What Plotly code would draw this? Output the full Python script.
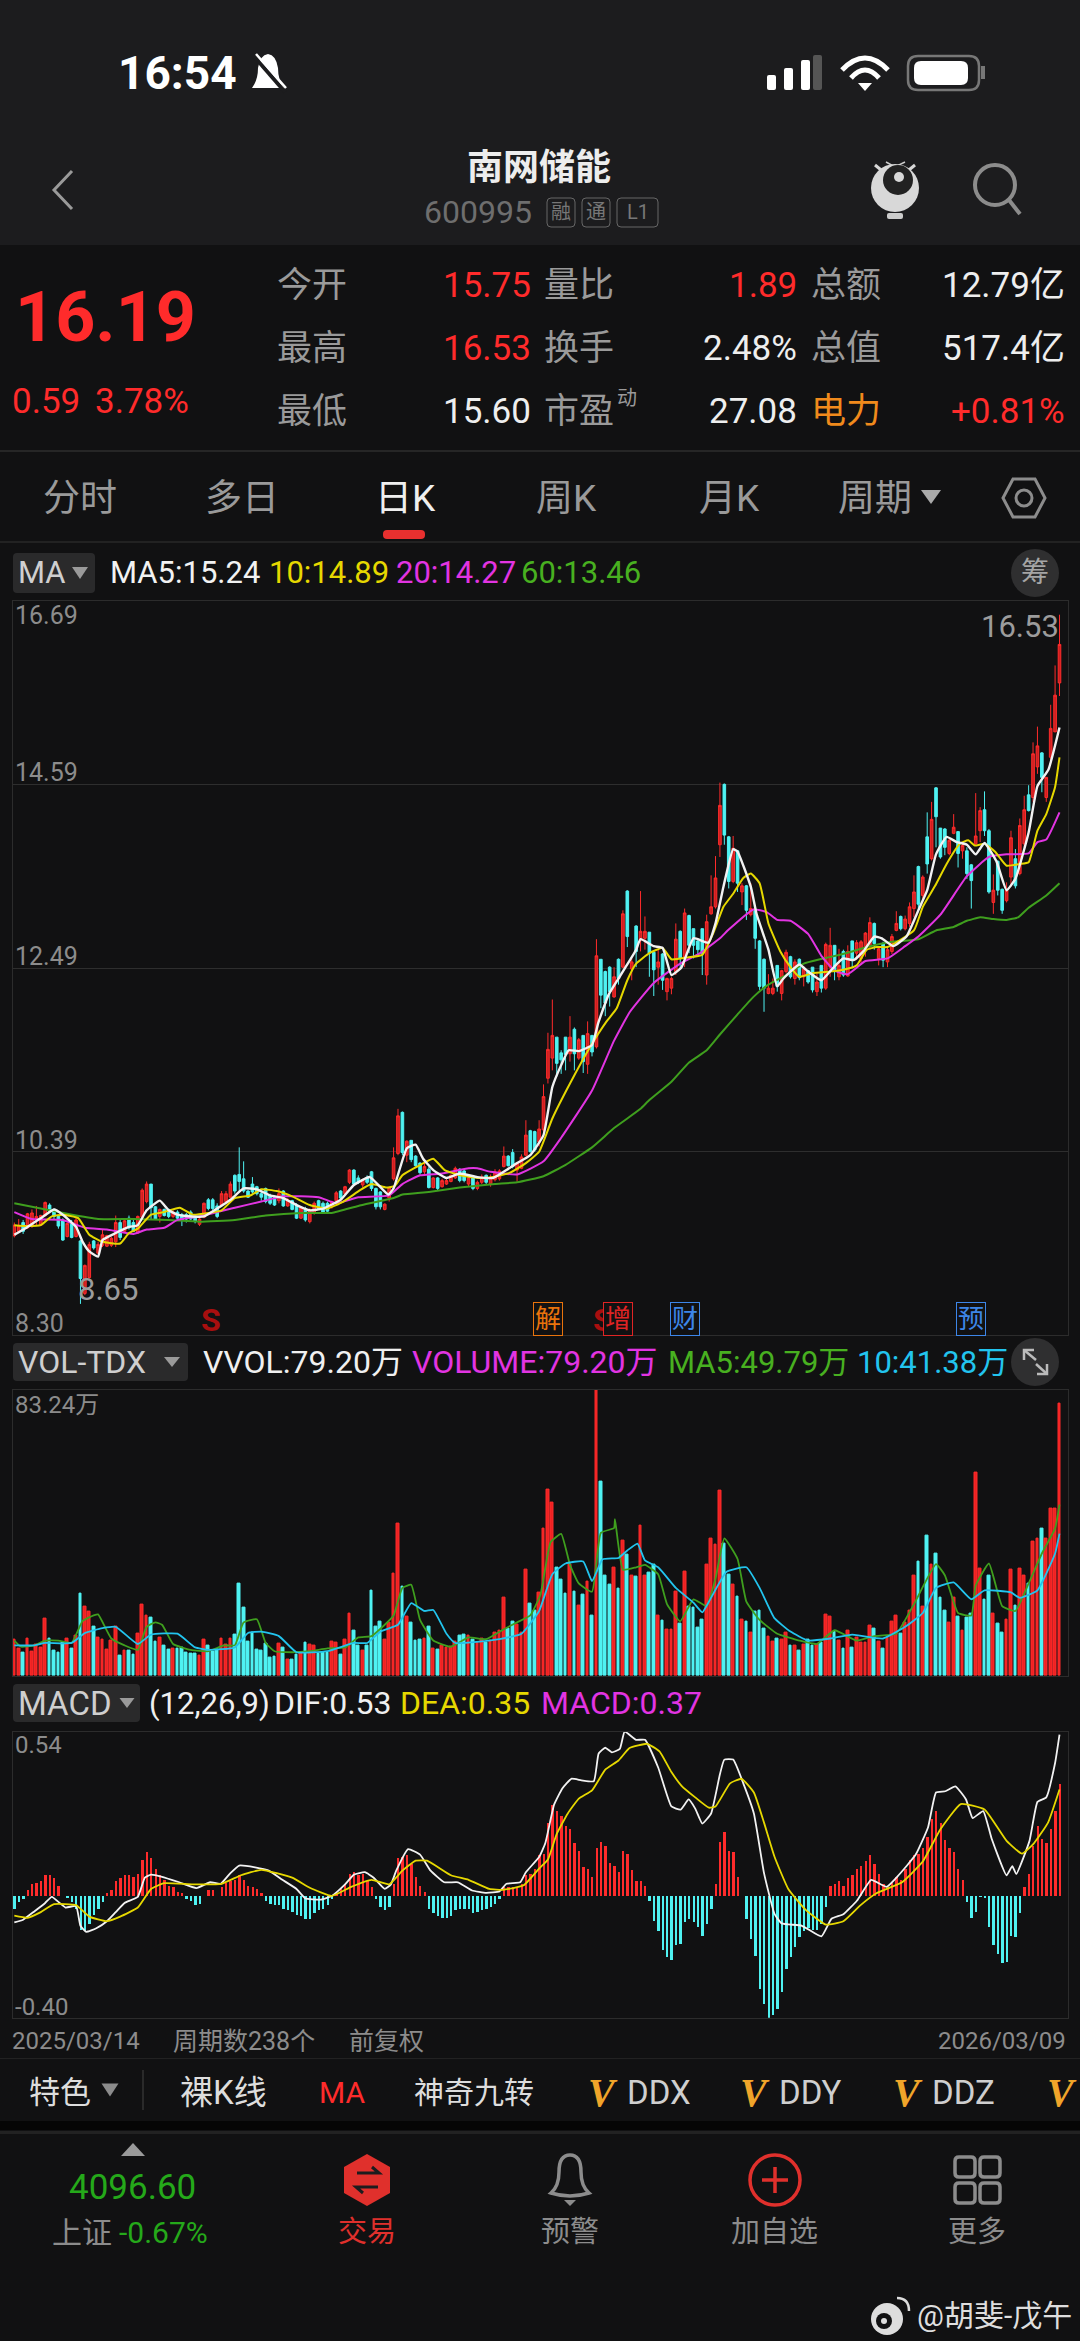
"""
南网储能 600995 daily K screenshot rebuilt with Plotly
"""
import plotly.graph_objects as go

W, H = 1080, 2341

# candles, one row per 10 sessions
opens = [
    9.43,9.48,9.58,9.52,9.55,9.62,9.55,9.66,9.78,9.73,
    9.65,9.61,9.42,9.58,9.42,9.37,8.77,8.95,9.37,9.23,
    9.32,9.31,9.32,9.36,9.58,9.48,9.63,9.58,9.46,9.64,
    9.82,10.02,9.76,9.65,9.73,9.73,9.65,9.70,9.67,9.67,
    9.70,9.65,9.56,9.64,9.84,9.84,9.77,9.78,9.82,9.87,
    10.12,10.13,10.08,9.94,10.02,9.99,9.91,9.97,9.89,9.87,
    9.83,9.94,9.77,9.83,9.78,9.63,9.74,9.59,9.69,9.83,
    9.80,9.80,9.76,9.83,9.94,9.91,10.04,10.18,10.09,10.01,
    10.09,10.16,9.97,9.93,9.73,9.86,10.08,10.37,10.84,10.35,
    10.52,10.34,10.26,10.16,10.19,9.98,10.09,9.99,10.02,10.05,
    10.09,10.19,10.17,10.02,10.09,9.97,10.04,10.12,10.02,10.07,
    10.08,10.22,10.34,10.38,10.18,10.20,10.35,10.63,10.62,10.50,
    10.64,11.23,11.46,11.70,11.52,11.70,11.51,11.79,11.46,11.72,
    11.39,11.72,11.59,12.59,12.45,12.50,12.16,12.59,12.50,13.37,
    12.48,12.97,12.81,12.83,12.90,12.67,12.50,12.65,12.22,12.26,
    12.45,12.91,12.60,13.09,12.94,12.80,12.94,12.41,13.11,13.19,
    13.90,14.59,13.99,13.48,13.83,13.36,13.43,13.10,13.15,12.80,
    12.59,12.20,12.20,12.52,12.20,12.45,12.62,12.37,12.59,12.39,
    12.46,12.50,12.22,12.52,12.26,12.50,12.75,12.39,12.68,12.40,
    12.80,12.66,12.60,12.73,12.75,13.00,12.60,12.77,12.56,12.68,
    12.92,13.08,12.94,13.00,13.17,13.65,13.32,13.99,13.74,14.55,
    14.09,14.08,13.80,14.03,14.05,13.83,13.83,13.67,13.91,14.06,
    14.30,14.06,13.24,13.71,13.39,13.26,13.53,13.74,13.57,13.91,
    14.47,14.44,14.79,14.95,14.44,14.90,15.19,15.75,
]
closes = [
    9.55,9.54,9.48,9.68,9.69,9.65,9.66,9.81,9.71,9.65,
    9.54,9.38,9.57,9.41,9.61,8.94,9.09,9.33,9.29,9.33,
    9.44,9.43,9.40,9.58,9.41,9.60,9.52,9.48,9.65,9.95,
    10.02,9.75,9.62,9.73,9.66,9.65,9.70,9.63,9.61,9.62,
    9.62,9.59,9.62,9.80,9.74,9.74,9.65,9.91,9.91,10.02,
    9.94,10.05,9.94,9.87,9.93,9.91,9.87,9.82,9.80,9.78,
    9.91,9.77,9.84,9.73,9.63,9.75,9.61,9.73,9.80,9.74,
    9.70,9.71,9.82,9.92,9.86,9.99,10.18,10.02,10.04,10.07,
    10.04,9.97,9.76,9.76,9.79,9.98,10.32,10.80,10.38,10.51,
    10.30,10.23,10.15,10.22,9.98,10.09,9.97,10.06,10.06,10.12,
    10.20,10.06,10.06,10.09,9.97,10.04,10.10,10.04,10.10,10.16,
    10.17,10.34,10.23,10.22,10.26,10.33,10.58,10.39,10.41,10.65,
    11.02,11.56,11.72,11.40,11.44,11.50,11.70,11.51,11.67,11.42,
    11.74,11.53,12.63,12.18,12.09,12.22,12.39,12.37,13.11,12.85,
    12.56,12.68,12.91,12.91,12.66,12.47,12.56,12.35,12.37,12.37,
    12.82,12.60,13.12,12.75,12.75,12.70,12.66,13.02,13.19,13.52,
    14.35,14.01,13.48,13.86,13.46,13.43,13.15,13.17,12.83,12.28,
    12.26,12.26,12.26,12.28,12.46,12.67,12.39,12.56,12.38,12.48,
    12.33,12.24,12.33,12.26,12.76,12.75,12.45,12.52,12.41,12.68,
    12.59,12.78,12.79,12.89,13.01,12.77,12.71,12.58,12.70,12.85,
    13.00,12.94,13.05,13.19,13.36,13.22,13.53,13.68,14.19,14.22,
    13.76,13.87,13.95,14.10,13.80,13.89,13.57,13.49,14.00,14.29,
    14.06,13.36,13.38,13.38,13.15,13.38,13.98,13.43,14.12,14.30,
    14.29,14.94,15.03,14.67,14.67,15.23,15.61,16.19,
]
highs = [
    9.58,9.62,9.61,9.69,9.73,9.77,9.67,9.82,9.80,9.74,
    9.67,9.63,9.58,9.61,9.63,9.38,9.10,9.36,9.38,9.36,
    9.50,9.44,9.42,9.66,9.61,9.61,9.66,9.61,9.66,9.97,
    10.05,10.02,9.77,9.74,9.74,9.74,9.72,9.72,9.69,9.69,
    9.72,9.66,9.64,9.81,9.86,9.86,9.80,9.94,9.94,10.05,
    10.13,10.44,10.28,9.95,10.10,10.00,9.94,9.98,9.91,9.88,
    9.97,9.95,9.86,9.84,9.80,9.76,9.76,9.74,9.82,9.84,
    9.82,9.82,9.83,9.94,9.95,10.00,10.19,10.19,10.12,10.08,
    10.12,10.17,9.98,9.94,9.80,9.99,10.44,10.88,10.85,10.52,
    10.52,10.35,10.27,10.27,10.22,10.10,10.10,10.08,10.08,10.13,
    10.22,10.20,10.19,10.10,10.12,10.06,10.13,10.13,10.13,10.19,
    10.19,10.45,10.35,10.42,10.26,10.36,10.75,10.64,10.63,10.75,
    11.16,11.75,12.13,11.70,11.55,11.70,11.94,11.81,11.69,11.72,
    11.88,11.72,12.82,12.59,12.46,12.51,12.50,12.60,13.15,13.38,
    12.61,12.98,13.37,13.08,12.90,12.68,12.70,12.66,12.38,12.39,
    13.00,12.92,13.17,13.10,12.94,12.81,12.94,13.10,13.55,13.77,
    14.61,14.60,14.00,14.00,13.84,13.46,13.44,13.46,13.15,12.81,
    12.60,12.42,12.37,12.52,12.47,12.70,12.63,12.59,12.60,12.51,
    12.47,12.50,12.43,12.52,12.78,12.95,12.75,12.71,12.70,12.75,
    12.80,12.81,12.81,12.90,13.07,13.01,12.73,12.79,12.72,12.88,
    13.14,13.09,13.09,13.24,13.55,13.66,13.55,14.27,14.39,14.56,
    14.09,14.09,13.97,14.25,14.05,13.91,13.87,13.68,14.49,14.33,
    14.51,14.08,13.56,13.72,13.40,13.47,14.06,13.85,14.20,14.46,
    14.58,15.07,15.25,14.96,14.67,15.50,15.95,16.53,
]
lows = [
    9.41,9.47,9.45,9.51,9.52,9.54,9.54,9.65,9.69,9.62,
    9.51,9.37,9.41,9.40,9.41,8.65,8.75,8.94,9.27,9.22,
    9.30,9.30,9.30,9.30,9.38,9.47,9.50,9.47,9.45,9.63,
    9.80,9.61,9.61,9.58,9.65,9.63,9.63,9.62,9.54,9.58,
    9.61,9.57,9.54,9.63,9.72,9.72,9.63,9.77,9.80,9.86,
    9.91,9.94,9.92,9.86,9.91,9.89,9.83,9.80,9.78,9.77,
    9.80,9.76,9.76,9.72,9.62,9.62,9.59,9.57,9.67,9.73,
    9.68,9.69,9.74,9.82,9.84,9.89,10.02,10.00,10.02,9.98,
    10.02,9.94,9.73,9.73,9.72,9.82,10.06,10.35,10.35,10.27,
    10.27,10.22,10.13,10.13,9.97,9.97,9.95,9.98,10.01,10.04,
    10.08,10.04,10.04,9.99,9.95,9.95,10.02,10.02,9.99,10.05,
    10.06,10.21,10.22,10.20,10.05,10.19,10.34,10.38,10.39,10.45,
    10.56,11.17,11.32,11.25,11.28,11.32,11.42,11.32,11.44,11.29,
    11.28,11.48,11.57,12.03,11.94,12.05,12.15,12.30,12.49,12.73,
    12.35,12.50,12.68,12.70,12.39,12.17,12.30,12.24,12.12,12.19,
    12.41,12.49,12.50,12.66,12.60,12.64,12.41,12.30,13.10,13.17,
    13.76,13.90,13.40,13.46,13.36,13.21,13.04,13.08,12.71,12.24,
    11.99,12.19,12.18,12.22,12.12,12.43,12.37,12.30,12.35,12.28,
    12.31,12.21,12.17,12.21,12.24,12.39,12.35,12.35,12.39,12.39,
    12.50,12.58,12.54,12.62,12.70,12.70,12.52,12.50,12.50,12.65,
    12.91,12.92,12.92,12.96,13.07,13.13,13.26,13.57,13.72,13.87,
    13.74,13.78,13.78,14.02,13.64,13.74,13.51,13.17,13.89,13.93,
    14.00,13.34,13.11,13.32,13.11,13.24,13.42,13.40,13.55,13.87,
    14.28,14.39,14.71,14.50,14.39,14.86,15.19,15.60,
]

# price moving averages, read at the session numbers next to them
ma5_x = [0,3,6,9,11,14,15.5,17,19,20,23,26,28,30,33,35,37,40,43,46,49,52,55,58,61,64,67,70,74,77,80.6,84.8,86,89,91,92.7,95,98,101,105,108.6,111.6,114,117,120,122,124,125.7,128,131,132.4,134.7,137,138.6,141,142,145,147,149,151.3,154,157.4,159,160.8,163,164,167,168.3,171,173,174.4,178,180,183,186,188,190.3,192.5,195,196.7,199.3,202.3,205,207,209,211.4,213.7,216,218,220,222.7,225,227,230,232,234.5,237]
ma5 = [9.44,9.53,9.63,9.73,9.67,9.53,9.36,9.25,9.19,9.38,9.46,9.53,9.55,9.72,9.83,9.72,9.67,9.65,9.65,9.74,9.84,9.97,9.96,9.89,9.86,9.78,9.72,9.74,9.84,10.01,10.10,9.90,9.97,10.43,10.47,10.31,10.18,10.09,10.14,10.10,10.09,10.18,10.26,10.35,10.58,11.13,11.38,11.55,11.54,11.61,11.86,12.18,12.37,12.50,12.70,12.82,12.74,12.72,12.41,12.50,12.83,12.78,13.00,13.42,13.85,13.82,13.42,13.11,12.70,12.28,12.37,12.53,12.45,12.35,12.51,12.60,12.58,12.68,12.85,12.83,12.74,12.85,13.15,13.38,13.79,13.99,13.93,13.90,13.79,13.92,13.71,13.38,13.51,14.04,14.57,14.76,15.24]
ma10_x = [0,3,6,8.5,11,14.5,17,20,24,26,28,31,34,37.5,40.5,44,47,50,53.5,56,59.5,63,67,71,74.6,78.4,81,84.4,86.3,88,91,95,97.6,101,105,108.6,112.4,116,119,122,126,130.6,134.3,136.6,139,141,144,147,149,152.5,156,158.5,160.8,163,165.3,167,169,171,173.7,176,178,181,185,188,191,193.3,195.6,198,204,206,208.8,211.4,214.4,216.3,217.8,220,222.4,225,228,230,232,234,236,237]
ma10 = [9.55,9.54,9.55,9.65,9.67,9.63,9.44,9.36,9.34,9.46,9.51,9.67,9.70,9.75,9.67,9.69,9.72,9.86,9.89,9.96,9.94,9.88,9.78,9.74,9.82,9.95,10.02,9.98,10.00,10.12,10.21,10.31,10.18,10.12,10.09,10.10,10.15,10.26,10.39,10.77,11.17,11.59,11.88,12.03,12.35,12.54,12.66,12.72,12.59,12.61,12.64,12.89,13.19,13.34,13.52,13.57,13.46,13.00,12.68,12.50,12.39,12.43,12.45,12.47,12.52,12.70,12.73,12.73,12.92,13.19,13.43,13.68,13.91,13.95,13.89,13.91,13.82,13.66,13.68,13.70,14.06,14.25,14.56,14.90]
ma20_x = [0,4,11,16,21,27,30,34,37,42,50,56,61,69,73,78,85,88,92,97,103,105,108,114,120,124,131,136,139.6,145,151,155.5,160,162,167.6,170.6,173,176,180,183,186,189,193,198,202,205,210,216,221,225,230,232,234,237]
ma20 = [9.70,9.62,9.61,9.52,9.50,9.45,9.50,9.52,9.61,9.65,9.75,9.82,9.88,9.87,9.80,9.87,9.89,10.02,10.12,10.14,10.20,10.20,10.16,10.13,10.28,10.55,11.09,11.66,11.99,12.32,12.54,12.66,12.83,12.93,13.16,13.13,13.04,13.03,12.88,12.63,12.46,12.42,12.57,12.60,12.74,12.85,13.10,13.54,13.76,13.79,13.80,13.93,13.96,14.27]
ma60_x = [0,12,19,27,35,42,50,57,65,72,78,86,88,94,101,109,114,120,125,131,136,142,144,149,153,157,160,164,167.6,171,175,179,182.7,187,190,194,199,205,209,213,216,219,222,225,227.6,230,234,237]
ma60 = [9.80,9.68,9.62,9.62,9.61,9.59,9.61,9.66,9.69,9.69,9.77,9.86,9.90,9.93,9.98,10.02,10.04,10.11,10.24,10.44,10.66,10.88,10.98,11.19,11.41,11.55,11.73,11.96,12.16,12.30,12.41,12.54,12.59,12.64,12.68,12.74,12.79,12.82,12.92,12.96,13.03,13.07,13.05,13.04,13.07,13.18,13.32,13.46]

# volume in 万手
volume = [
    10.7,8.0,6.7,10.9,7.2,9.2,8.3,16.8,10.9,7.3,
    6.9,9.6,10.9,7.9,11.6,24.0,20.1,18.8,14.3,11.2,
    10.7,7.6,10.3,14.3,5.9,7.3,7.3,6.3,12.3,20.7,
    17.6,17.1,9.9,11.2,8.9,7.6,8.0,7.9,8.3,6.9,
    6.4,6.4,5.9,10.5,8.9,7.2,7.7,10.9,9.1,10.9,
    12.0,26.9,19.9,9.9,12.5,7.7,7.3,9.3,5.3,5.6,
    9.3,8.3,4.8,4.8,6.3,6.7,9.6,9.2,8.9,6.4,
    6.9,6.9,9.9,9.6,6.3,10.5,18.0,13.3,8.8,7.3,
    8.8,24.7,14.3,15.9,10.5,15.6,29.9,44.3,26.0,17.2,
    15.5,10.4,10.7,10.9,14.3,8.1,7.7,8.9,8.3,8.5,
    10.0,11.7,12.0,11.6,10.7,9.6,10.8,9.6,10.3,12.7,
    13.3,22.9,13.9,15.9,14.9,12.7,30.9,20.9,18.9,24.3,
    42.7,54.3,50.4,31.6,27.9,24.0,32.3,24.5,20.5,23.6,
    27.3,17.6,83.24,56.5,29.2,26.5,31.6,25.5,39.3,35.2,
    29.2,28.9,43.6,29.2,30.0,32.3,17.6,16.0,13.6,13.6,
    24.5,15.2,30.3,20.3,19.9,14.0,16.5,32.5,40.0,38.1,
    53.9,38.5,29.6,26.5,23.2,16.5,15.9,12.7,18.7,18.9,
    13.9,11.5,10.0,10.9,10.7,12.5,8.9,8.9,7.5,9.2,
    10.7,8.9,9.2,9.6,17.9,17.2,12.9,10.4,8.0,13.2,
    8.3,11.2,9.6,9.6,14.7,13.9,9.9,7.9,11.2,15.7,
    17.6,12.3,15.6,18.9,29.3,33.3,20.3,40.7,32.3,35.6,
    22.9,18.9,15.6,22.9,17.3,13.3,16.9,18.0,59.2,31.2,
    22.3,29.3,18.0,15.3,12.7,16.5,30.9,20.5,31.2,29.3,
    26.9,39.2,40.0,42.7,40.0,48.8,48.8,79.2,
]
vol_ma5_x = [0,1.5,4.6,7,10,13,15.5,18,19,22,25,28,30,32,33.5,36,40,44,47.5,50,52,55,57,59,63,67,71,75,78,81,84,86,88,90,92,95,99,103,107,111,114,117,119.3,121.6,124,126,128,131,133,136,136.2,138,141,143,146,148,151,154,157,159,161,164,166,169,173,178,182,186,191,195,200,204,209,211,214,217,218,221,224,227,230,233,236,237]
vol_ma5 = [10.3,8.5,8.9,10.3,10.3,9.6,16.0,17.6,17.9,10.9,8.9,7.6,14.3,15.6,14.9,9.3,7.6,7.2,8.9,8.9,15.6,16.5,9.6,7.2,6.9,7.2,8.0,8.3,11.2,11.6,14.9,17.6,25.6,26.5,16.3,10.3,8.5,11.2,10.7,13.6,15.6,17.6,23.6,38.9,41.3,32.3,26.9,24.5,41.6,43.0,45.6,30.9,31.6,32.3,29.6,20.9,15.9,22.3,20.3,28.3,40.0,34.0,21.6,16.3,12.3,10.3,9.3,13.3,10.3,11.6,12.3,20.9,32.5,29.3,18.3,17.6,26.3,32.7,20.3,18.9,26.9,35.6,42.9,49.79]
vol_ma10_x = [0,4.6,7,13,16,20,23,28,31,37,41,44,50,53,56,60,64,71,77,80,83,87,90,93,95,98,100,110,115,119,122,125,129,131,133.4,137,139,141.3,143,146,150,154,156,157.5,161.5,166,169,172.3,176,180,185,190,197,202,206,209,213,217,220,226,228,232,236,237]
vol_ma10 = [8.9,8.9,9.6,9.6,12.5,13.9,14.3,9.3,12.0,12.3,8.3,7.6,8.3,12.5,12.9,11.6,6.9,7.2,9.6,9.6,12.9,14.9,21.2,18.9,19.2,12.3,9.6,10.7,12.3,18.9,29.6,32.7,33.3,27.6,33.9,34.3,36.5,38.5,33.6,31.6,25.6,21.3,18.5,21.6,30.3,31.6,25.6,16.9,12.9,10.3,10.9,12.0,10.9,14.3,18.3,25.6,27.2,22.3,24.9,24.3,22.7,24.9,35.6,41.38]

# MACD histogram, then DIF and DEA
macd = [
    -.04,-.02,-.01,.02,.04,.045,.05,.07,.07,.06,
    .035,0,-.005,-.02,-.04,-.11,-.115,-.09,-.06,-.04,
    -.02,.01,.02,.05,.06,.07,.07,.065,.075,.12,
    .145,.125,.09,.07,.055,.035,.03,.015,.01,-.01,
    -.015,-.03,-.025,0,.02,.02,0,.03,.045,.05,
    .055,.07,.055,.035,.03,.025,.01,-.015,-.025,-.03,
    -.03,-.04,-.045,-.05,-.06,-.065,-.075,-.075,-.055,-.045,
    -.04,-.03,-.01,.01,.025,.04,.075,.08,.07,.075,
    .05,.03,-.01,-.035,-.045,-.035,.04,.125,.13,.135,
    .105,.065,.035,.015,-.04,-.055,-.065,-.07,-.07,-.065,
    -.045,-.04,-.04,-.04,-.055,-.05,-.045,-.04,-.035,-.025,
    -.01,.03,.03,.03,.03,.04,.07,.075,.09,.135,
    .14,.24,.30,.28,.265,.23,.22,.175,.15,.095,
    .09,.065,.16,.18,.165,.11,.10,.08,.15,.14,
    .085,.05,.05,.035,-.015,-.08,-.115,-.175,-.20,-.21,
    -.16,-.155,-.085,-.075,-.085,-.10,-.13,-.09,-.04,.04,
    .18,.21,.15,.145,.065,0,-.075,-.14,-.195,-.305,
    -.355,-.40,-.39,-.37,-.315,-.24,-.20,-.165,-.135,-.115,
    -.105,-.11,-.11,-.09,-.035,.035,.04,.05,.035,.06,
    .07,.09,.10,.115,.135,.105,.075,.04,.03,.045,
    .065,.055,.09,.12,.135,.14,.16,.195,.255,.28,
    .24,.185,.16,.145,.09,.055,-.02,-.07,-.05,-.002,
    -.005,-.10,-.16,-.19,-.22,-.215,-.13,-.135,-.055,.03,
    .075,.165,.23,.19,.175,.22,.28,.37,
]
dif_x = [0,2,4.6,7,8.5,11.6,14,15,16.3,18.6,21,23,25,28,29.6,31,33.5,37.4,41.3,44.4,46.8,49,51,54.6,57.7,60.8,64,66,69.4,72,75,77,79.5,81.5,84,85.4,86.6,89.3,92,94.4,97.5,100.6,103.8,107,110,111.6,114.7,116,119,120.4,122.4,124.3,126.3,128.6,131.4,132.5,134,135.5,137.3,138.4,141,143,146,149,151.1,152.9,154.4,156,158,160,161,163,165.3,167.7,170,172.4,174,178.6,183,185.3,188,191.1,194.3,197.8,200.5,204.4,207.2,209,211.1,213.4,215.8,217.3,219.7,221.6,225,226.3,227.2,230.2,232,234,236,237]
dif = [-.087,-.078,-.05,-.023,-.003,-.038,-.033,-.098,-.118,-.106,-.083,-.053,-.023,-.003,.06,.07,.063,.045,.026,.045,.04,.075,.10,.094,.083,.053,.023,-.008,-.012,0,.038,.07,.078,.06,.023,.038,.083,.154,.136,.083,.045,.045,.018,.01,.015,.04,.045,.078,.128,.173,.30,.354,.385,.38,.377,.468,.487,.472,.483,.54,.513,.513,.422,.294,.284,.317,.287,.238,.271,.40,.448,.448,.37,.271,.075,-.06,-.09,-.098,-.133,-.075,-.06,-.015,.053,.03,.068,.136,.226,.34,.344,.36,.317,.256,.279,.189,.068,.098,.072,.181,.309,.324,.437,.53]
dea_x = [0,3,6,9,14,17,21,24,28,31,34,40.5,47,51.4,56,63,67,72,76.4,81,85,88,91,93.6,99,103,107.7,110.8,115.5,119,121,123,125.5,128,131,134,137,139.5,143.5,146.3,149,151.3,154.4,157.5,159,162.3,164.9,167.7,170,172.4,175.5,179.4,184,188,191.9,195.4,201.3,206,210,214.6,220,225,228.5,231.2,234.4,237]
dea = [-.065,-.072,-.053,-.027,-.03,-.068,-.083,-.068,-.038,.023,.042,.038,.04,.068,.086,.06,.027,0,.03,.053,.038,.083,.116,.116,.068,.053,.023,.02,.035,.09,.12,.204,.271,.32,.347,.415,.445,.486,.50,.475,.407,.362,.324,.29,.294,.37,.385,.34,.241,.128,.023,-.045,-.094,-.083,-.03,.008,.045,.113,.219,.302,.284,.181,.139,.173,.241,.35]

price_ticks = [16.69, 14.59, 12.49, 10.39, 8.30]
price_tick_labels = ["16.69", "14.59", "12.49", "10.39", "8.30"]
event_x = [44.6, 121, 133.5, 137, 152, 217]
event_labels = ["S", "解", "S", "增", "财", "预"]
event_colors = ["#a80f0f", "#e8730c", "#a80f0f", "#e02424", "#3d86e8", "#3d86e8"]

RED = "#ff2b2b"
CYAN = "#4ff2f2"
WHITE = "#f2f2f2"
YELLOW = "#e6d800"
MAGENTA = "#e234e2"
GREEN = "#3f9f1e"
SKY = "#22c4ee"
GREY = "#8c8c8c"
BG = "#111112"
FONT = "Roboto, 'Noto Sans CJK SC'"

sessions = list(range(len(opens)))
x_range = [-0.41, 238.86]


def px(x):
    return x / W


def py(y):
    return 1 - y / H


def line_trace(xs, ys, color, xaxis, yaxis, width=2):
    return go.Scatter(x=xs, y=ys, mode="lines", xaxis=xaxis, yaxis=yaxis, hoverinfo="skip",
                      line=dict(color=color, width=width, shape="spline", smoothing=0.4))


fig = go.Figure()

fig.add_trace(go.Candlestick(
    x=sessions, open=opens, high=highs, low=lows, close=closes,
    xaxis="x", yaxis="y", whiskerwidth=0,
    increasing=dict(line=dict(color=RED, width=1), fillcolor="#cc2020"),
    decreasing=dict(line=dict(color=CYAN, width=1), fillcolor=CYAN),
))
fig.add_trace(line_trace(ma60_x, ma60, GREEN, "x", "y"))
fig.add_trace(line_trace(ma20_x, ma20, MAGENTA, "x", "y"))
fig.add_trace(line_trace(ma10_x, ma10, YELLOW, "x", "y"))
fig.add_trace(line_trace(ma5_x, ma5, WHITE, "x", "y", 2.4))

vol_colors = [RED if c >= o else CYAN for o, c in zip(opens, closes)]
vol_fill = ["#ee2222" if c >= o else CYAN for o, c in zip(opens, closes)]
fig.add_trace(go.Bar(x=sessions, y=volume, xaxis="x2", yaxis="y2", width=0.62,
                     marker=dict(color=vol_fill, line=dict(color=vol_colors, width=1))))
fig.add_trace(line_trace(vol_ma5_x, vol_ma5, GREEN, "x2", "y2", 1.8))
fig.add_trace(line_trace(vol_ma10_x, vol_ma10, SKY, "x2", "y2", 1.8))

macd_colors = [RED if v >= 0 else CYAN for v in macd]
fig.add_trace(go.Bar(x=sessions, y=macd, xaxis="x3", yaxis="y3", width=0.42,
                     marker=dict(color=macd_colors, line=dict(width=0))))
fig.add_trace(line_trace(dif_x, dif, WHITE, "x3", "y3", 1.8))
fig.add_trace(line_trace(dea_x, dea, YELLOW, "x3", "y3", 1.8))

shapes = []
notes = []


def rect(x0, y0, x1, y1, fill=None, line=None, width=1, layer="below", radius=0):
    if radius:
        r = radius
        d = (f"M{px(x0 + r)},{py(y0)} L{px(x1 - r)},{py(y0)} Q{px(x1)},{py(y0)} {px(x1)},{py(y0 + r)} "
             f"L{px(x1)},{py(y1 - r)} Q{px(x1)},{py(y1)} {px(x1 - r)},{py(y1)} L{px(x0 + r)},{py(y1)} "
             f"Q{px(x0)},{py(y1)} {px(x0)},{py(y1 - r)} L{px(x0)},{py(y0 + r)} Q{px(x0)},{py(y0)} {px(x0 + r)},{py(y0)} Z")
        path(d, fill, line, width, layer)
        return
    shapes.append(dict(type="rect", xref="paper", yref="paper", x0=px(x0), x1=px(x1), y0=py(y0), y1=py(y1),
                       fillcolor=fill, line=dict(color=line, width=width if line else 0), layer=layer))


def circle(cx, cy, r, fill=None, line=None, width=1, layer="above"):
    shapes.append(dict(type="circle", xref="paper", yref="paper", x0=px(cx - r), x1=px(cx + r),
                       y0=py(cy + r), y1=py(cy - r), fillcolor=fill,
                       line=dict(color=line, width=width if line else 0), layer=layer))


def path(d, fill=None, line=None, width=1, layer="above"):
    shapes.append(dict(type="path", xref="paper", yref="paper", path=d, fillcolor=fill,
                       line=dict(color=line, width=width if line else 0), layer=layer))


def poly(points, fill=None, line=None, width=1, close=True):
    d = "M" + " L".join(f"{px(a)},{py(b)}" for a, b in points) + (" Z" if close else "")
    path(d, fill, line, width)


def text(x, y, s, size, color, anchor="left", family=FONT, weight=None):
    if weight:
        s = f"<b>{s}</b>"
    # annotations carry a little padding of their own
    shift = {"left": -3, "right": 1, "center": 0}[anchor]
    notes.append(dict(x=px(x), y=py(y), xref="paper", yref="paper", text=s, showarrow=False,
                      xanchor=anchor, yanchor="middle", align=anchor, xshift=shift,
                      font=dict(size=size, color=color, family=family)))


def data_text(x, y, s, size, color, xref, yref, xanchor="left", yanchor="bottom", **kw):
    notes.append(dict(x=x, y=y, xref=xref, yref=yref, text=s, showarrow=False, xanchor=xanchor,
                      yanchor=yanchor, font=dict(size=size, color=color, family=FONT), **kw))


def tri_down(cx, cy, w, h, color):
    poly([(cx - w / 2, cy - h / 2), (cx + w / 2, cy - h / 2), (cx, cy + h / 2)], fill=color)


# header and bands
rect(0, 0, 1080, 245, fill="#1c1c1e")
rect(0, 450, 1080, 452, fill="#262626")
rect(0, 541, 1080, 543, fill="#222222")
rect(0, 2058, 1080, 2059, fill="#222222")
rect(0, 2121, 1080, 2130, fill="#050505")
rect(0, 2131, 1080, 2134, fill="#222222")

# status bar
text(119, 73, "16:54", 46, "white", family="Roboto", weight=True)
path(f"M{px(252)},{py(88)} Q{px(258)},{py(80)} {px(258)},{py(68)} Q{px(260)},{py(55)} {px(268)},{py(54)} "
     f"Q{px(276)},{py(55)} {px(278)},{py(68)} Q{px(278)},{py(80)} {px(284)},{py(88)} Z", fill="white")
poly([(252, 54), (285, 92)], line="#1c1c1e", width=4, close=False)
poly([(256, 54), (286, 88)], line="white", width=2.5, close=False)
for x0, top, col in [(768, 75, "white"), (785, 68, "white"), (802, 60, "white"), (814, 55, "#555555")]:
    rect(x0 - 1, top, x0 + 8, 90, fill=col, layer="above", radius=2)
path(f"M{px(842)},{py(70)} Q{px(865)},{py(46)} {px(888)},{py(70)}", line="white", width=5)
path(f"M{px(851)},{py(78)} Q{px(865)},{py(62)} {px(879)},{py(78)}", line="white", width=5)
poly([(858, 83), (872, 83), (865, 91)], fill="white")
rect(908, 56, 979, 90, line="#777777", width=2.5, layer="above", radius=10)
rect(914, 61, 968, 85, fill="white", layer="above", radius=7)
rect(981, 66, 985, 79, fill="#777777", layer="above")

# title row
poly([(72, 171), (54, 190), (72, 209)], line="#9a9a9a", width=3, close=False)
text(539, 168, "南网储能", 36, "#ededed", "center", weight=True)
text(425, 212, "600995", 32, "#6e6e6e")
for x0, x1, s in [(547, 575, "融"), (582, 610, "通"), (617, 658, "L1")]:
    rect(x0, 198, x1, 227, line="#666666", layer="above", radius=4)
    text((x0 + x1) / 2, 212, s, 20, "#777777", "center")
poly([(875, 165), (886, 174)], line="#d8d8d8", width=3, close=False)
poly([(915, 165), (904, 174)], line="#d8d8d8", width=3, close=False)
poly([(886, 162), (895, 167), (905, 162)], line="#cccccc", width=1.5, close=False)
circle(895, 188, 24, fill="#d8d8d8")
circle(898, 180, 15, fill="#222222")
circle(899, 177, 5, fill="#d8d8d8")
rect(887, 213, 903, 219, fill="#cccccc", layer="above", radius=2)
circle(995, 185, 20, line="#8c8c8c", width=4)
poly([(1009, 200), (1020, 214)], line="#8c8c8c", width=4, close=False)

# quote block
text(16, 317, "16.19", 70, RED, family="Roboto", weight=True)
text(13, 401, "0.59", 35, RED)
text(96, 401, "3.78%", 35, RED)
left_labels = ["今开", "最高", "最低"]
left_values = ["15.75", "16.53", "15.60"]
left_colors = [RED, RED, "#eeeeee"]
mid_labels = ["量比", "换手", "市盈"]
mid_values = ["1.89", "2.48%", "27.08"]
mid_colors = [RED, "#eeeeee", "#eeeeee"]
right_labels = ["总额", "总值", "电力"]
right_values = ["12.79亿", "517.4亿", "+0.81%"]
right_colors = ["#eeeeee", "#eeeeee", RED]
for row, y in enumerate([285, 349, 412]):
    text(278, y, left_labels[row], 35, "#9a9a9a")
    text(532, y, left_values[row], 35, left_colors[row], "right")
    text(545, y, mid_labels[row], 35, "#9a9a9a")
    text(798, y, mid_values[row], 35, mid_colors[row], "right")
    text(812, y, right_labels[row], 35, "#f08a1c" if row == 2 else "#9a9a9a")
    text(1066, y, right_values[row], 35, right_colors[row], "right")
text(618, 398, "动", 20, "#9a9a9a")

# period tabs
tab_labels = ["分时", "多日", "日K", "周K", "月K", "周期"]
tab_x = [80, 242, 405, 566, 729, 875]
for i, (s, x) in enumerate(zip(tab_labels, tab_x)):
    text(x, 498, s, 37, "#efefef" if i == 2 else "#9a9a9a", "center")
tri_down(931, 497, 20, 14, "#aaaaaa")
rect(383, 530, 425, 539, fill="#e8302f", layer="above", radius=4)
poly([(1003, 498), (1013, 479), (1035, 479), (1045, 498), (1035, 517), (1013, 517)], line="#8c8c8c", width=3)
circle(1024, 498, 8, line="#8c8c8c", width=3)

# indicator headers
rect(13, 553, 95, 593, fill="#2a2a2b", layer="above", radius=4)
text(19, 573, "MA", 31, "#cfcfcf")
tri_down(80, 573, 16, 12, "#9a9a9a")
text(111, 573, "MA5:15.24", 31, "#f2f2f2")
text(270, 573, "10:14.89", 31, YELLOW)
text(397, 573, "20:14.27", 31, MAGENTA)
text(522, 573, "60:13.46", 31, "#48b020")
circle(1035, 573, 24, fill="#2f2f30")
text(1035, 573, "筹", 28, "#a5a5a5", "center")

rect(13, 1343, 188, 1381, fill="#2a2a2b", layer="above", radius=4)
text(19, 1362, "VOL-TDX", 32, "#cfcfcf")
tri_down(172, 1362, 16, 10, "#9a9a9a")
text(204, 1362, "VVOL:79.20万", 32, "#f0f0f0")
text(413, 1362, "VOLUME:79.20万", 32, MAGENTA)
text(669, 1362, "MA5:49.79万", 31, "#48b020")
text(858, 1362, "10:41.38万", 31, SKY)
circle(1035, 1362, 24, fill="#2f2f30")
poly([(1024, 1350), (1036, 1360)], line="#bbbbbb", width=2.5, close=False)
poly([(1024, 1360), (1024, 1350), (1034, 1350)], line="#bbbbbb", width=2.5, close=False)
poly([(1036, 1364), (1047, 1374)], line="#bbbbbb", width=2.5, close=False)
poly([(1037, 1374), (1047, 1374), (1047, 1364)], line="#bbbbbb", width=2.5, close=False)

rect(13, 1684, 140, 1722, fill="#2a2a2b", layer="above", radius=4)
text(19, 1703, "MACD", 33, "#cfcfcf")
tri_down(127, 1703, 15, 10, "#9a9a9a")
text(150, 1703, "(12,26,9)", 31, "#f0f0f0")
text(275, 1703, "DIF:0.53", 32, "#f0f0f0")
text(401, 1703, "DEA:0.35", 32, YELLOW)
text(542, 1703, "MACD:0.37", 32, MAGENTA)

# price pane labels
for v, s in zip(price_ticks, price_tick_labels):
    top = v == price_ticks[0]
    data_text(x_range[0], v, s, 25, GREY, "x", "y", yanchor="top" if top else "bottom",
              yshift=2 if top else -5)
data_text(14, min(lows), "8.65", 31, "#9c9c9c", "x", "y", yanchor="middle", yshift=14)
data_text(237, max(highs), "16.53", 31, "#9c9c9c", "x", "y", xanchor="right", yanchor="top",
          xshift=1, yshift=9)
for x, s, c in zip(event_x, event_labels, event_colors):
    if s == "S":
        data_text(x, 8.47, f"<b>{s}</b>", 32, c, "x", "y", xanchor="center", yanchor="middle")
    else:
        data_text(x, 8.48, s, 26, c, "x", "y", xanchor="center", yanchor="middle",
                  bordercolor=c, borderwidth=1, borderpad=1, bgcolor=BG)

data_text(x_range[0], 83.24, "83.24万", 24, GREY, "x2", "y2", yanchor="top", yshift=1)
data_text(x_range[0], 0.54, "0.54", 24, GREY, "x3", "y3", yanchor="top", yshift=3)
data_text(x_range[0], -0.40, "-0.40", 24, GREY, "x3", "y3", yanchor="bottom", yshift=-5)

# footer of the chart
text(13, 2041, "2025/03/14", 24, GREY)
text(174, 2041, "周期数238个", 25, GREY)
text(350, 2041, "前复权", 25, GREY)
text(1067, 2041, "2026/03/09", 24, GREY, "right")

# feature strip
text(30, 2092, "特色", 31, "#dddddd")
tri_down(110, 2090, 17, 13, "#8c8c8c")
rect(142, 2070, 144, 2110, fill="#2a2a2a", layer="above")
text(181, 2092, "裸K线", 33, "#dddddd")
text(320, 2092, "MA", 30, RED)
text(415, 2092, "神奇九转", 30, "#dddddd")
for vx, s in [(603, "DDX"), (755, "DDY"), (908, "DDZ"), (1062, "")]:
    text(vx, 2092, "<b><i>V</i></b>", 40, "#f0a52a", "center", family="Liberation Serif")
    if s:
        text(vx + 25, 2092, s, 33, "#cfcfcf")

# bottom nav
poly([(121, 2156), (145, 2156), (133, 2143)], fill="#9a9a9a")
text(132, 2187, "4096.60", 35, "#25a91a", "center")
text(53, 2232, "上证", 30, "#8c8c8c")
text(120, 2232, "-0.67%", 30, "#25a91a")
poly([(367, 2154), (390, 2167), (390, 2193), (367, 2206), (344, 2193), (344, 2167)], fill="#e0302c")
poly([(357, 2173), (379, 2173), (372, 2167)], line="#1c1c1e", width=3, close=False)
poly([(378, 2187), (356, 2187), (363, 2193)], line="#1c1c1e", width=3, close=False)
text(367, 2232, "交易", 29, "#e0302c", "center")
path(f"M{px(551)},{py(2193)} Q{px(559)},{py(2186)} {px(559)},{py(2172)} Q{px(559)},{py(2155)} {px(570)},{py(2155)} "
     f"Q{px(581)},{py(2155)} {px(581)},{py(2172)} Q{px(581)},{py(2186)} {px(589)},{py(2193)} Q{px(570)},{py(2199)} {px(551)},{py(2193)} Z",
     line="#8c8c8c", width=3.5)
poly([(564, 2200), (576, 2200), (570, 2206)], fill="#8c8c8c")
text(570, 2232, "预警", 29, "#8c8c8c", "center")
circle(775, 2180, 25, line="#e0302c", width=3.5)
poly([(762, 2180), (788, 2180)], line="#e0302c", width=3.5, close=False)
poly([(775, 2167), (775, 2193)], line="#e0302c", width=3.5, close=False)
text(774, 2232, "加自选", 29, "#8c8c8c", "center")
for gx, gy in [(955, 2157), (980, 2157), (955, 2183), (980, 2183)]:
    rect(gx, gy, gx + 20, gy + 20, line="#8c8c8c", width=3.5, layer="above", radius=4)
text(977, 2232, "更多", 29, "#8c8c8c", "center")

# watermark
circle(887, 2319, 16, fill="#dddddd")
circle(884, 2321, 8, fill="#111112")
circle(884, 2321, 3, fill="#dddddd")
path(f"M{px(897)},{py(2298)} Q{px(909)},{py(2298)} {px(909)},{py(2311)}", line="#dddddd", width=2.5)
text(918, 2315, "@胡斐-戊午", 30, "#dedede")


def pane_axes(top, bottom):
    xa = dict(domain=[px(12.5), px(1067.7)], range=x_range, showgrid=False, showticklabels=False,
              zeroline=False, ticks="", showline=True, mirror=True, linecolor="#2c2c2c", linewidth=1,
              rangeslider=dict(visible=False), fixedrange=True)
    ya = dict(domain=[py(bottom), py(top)], showticklabels=False, zeroline=False, ticks="",
              showline=True, mirror=True, linecolor="#2c2c2c", linewidth=1, fixedrange=True)
    return xa, ya


x1, y1 = pane_axes(600.7, 1334.5)
x2, y2 = pane_axes(1389.6, 1676)
x3, y3 = pane_axes(1731.6, 2017.7)
y1.update(range=[8.30, 16.69], tickvals=price_ticks[1:4], showgrid=True, gridcolor="#2e2e2e", gridwidth=1)
y2.update(range=[0, 83.24], showgrid=False)
y3.update(range=[-0.40, 0.54], showgrid=False)
x1["anchor"] = "y"
y1["anchor"] = "x"
x2["anchor"] = "y2"
y2["anchor"] = "x2"
x3["anchor"] = "y3"
y3["anchor"] = "x3"

fig.update_layout(
    width=W, height=H, margin=dict(l=0, r=0, t=0, b=0, pad=0, autoexpand=False),
    paper_bgcolor=BG, plot_bgcolor=BG, showlegend=False, hovermode=False, boxgap=0.15, bargap=0,
    xaxis=x1, yaxis=y1, xaxis2=x2, yaxis2=y2, xaxis3=x3, yaxis3=y3,
    shapes=shapes, annotations=notes,
)

fig.write_html("out.html", config={"displayModeBar": False},
               post_script="document.body.style.margin='0';document.body.style.background='#111112';")
